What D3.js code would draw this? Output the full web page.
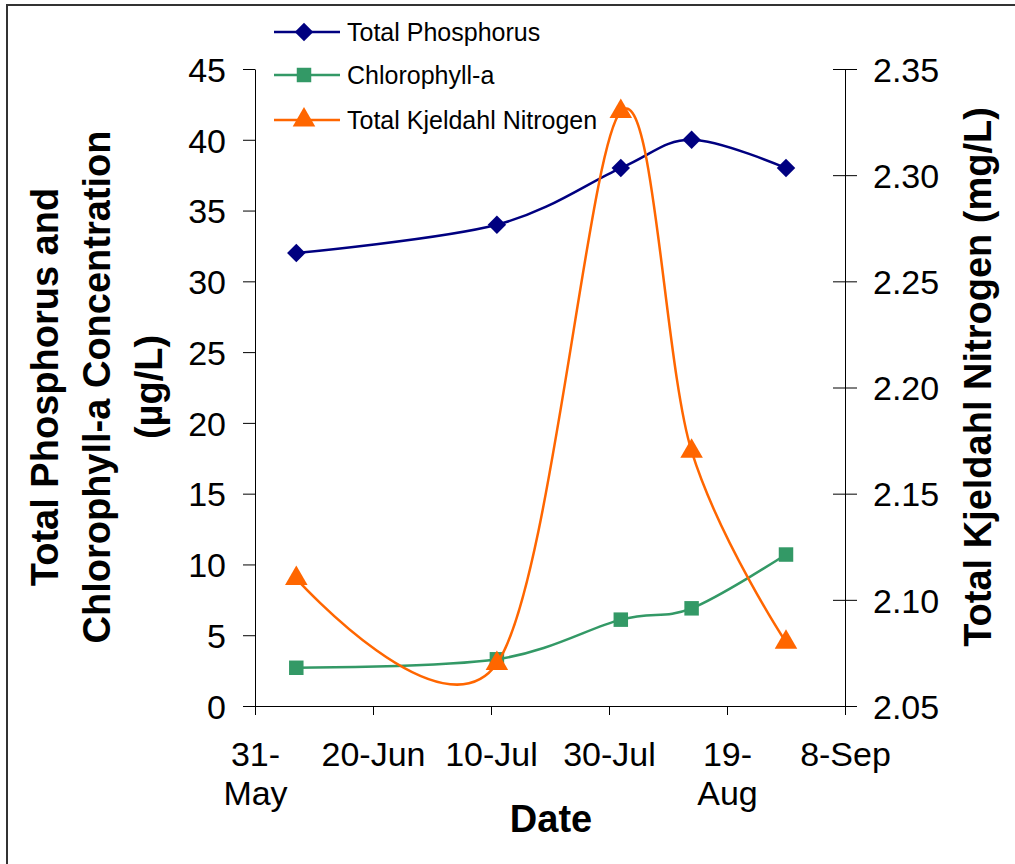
<!DOCTYPE html>
<html>
<head>
<meta charset="utf-8">
<script src="https://cdn.jsdelivr.net/npm/d3@7"></script>
<style>
  html, body { margin: 0; padding: 0; background: #fff; }
  svg { display: block; font-family: "Liberation Sans", Arial, sans-serif; }
</style>
</head>
<body>
<div id="chart"></div>
<script>
// data
const sampleDates = ['2003-06-07', '2003-07-11', '2003-08-01', '2003-08-13', '2003-08-29'];
const totalPhosphorus = [32, 34, 38, 40, 38];
const chlorophyllA = [2.7, 3.3, 6.1, 6.9, 10.7];
const totalKjeldahlN = [2.11, 2.07, 2.33, 2.17, 2.08];

const xTickDates = ['2003-05-31', '2003-06-20', '2003-07-10', '2003-07-30', '2003-08-19', '2003-09-08'];
const xTickLabels = [['31-', 'May'], ['20-Jun'], ['10-Jul'], ['30-Jul'], ['19-', 'Aug'], ['8-Sep']];
const leftTicks = [0, 5, 10, 15, 20, 25, 30, 35, 40, 45];
const rightTicks = [2.05, 2.10, 2.15, 2.20, 2.25, 2.30, 2.35];

const seriesNames = ['Total Phosphorus', 'Chlorophyll-a', 'Total Kjeldahl Nitrogen'];
const seriesColors = ['#000080', '#339966', '#FF6600'];

const width = 1015, height = 864;
const plot = {left: 255, right: 845, top: 69, bottom: 706};

const parse = d3.timeParse('%Y-%m-%d');

let svg = d3.select('#chart').append('svg')
            .attr('width', width)
            .attr('height', height);

// chart area border (only top and left visible)
svg.append('rect')
    .attr('x', 7).attr('y', 5)
    .attr('width', width + 20).attr('height', height + 20)
    .attr('fill', 'none')
    .attr('stroke', '#333')
    .attr('stroke-width', 2);

let xScale = d3.scaleTime()
              .domain([parse(xTickDates[0]), parse(xTickDates[xTickDates.length - 1])])
              .range([plot.left, plot.right]);

let yLeft = d3.scaleLinear()
              .domain([0, 45])
              .range([plot.bottom, plot.top]);

let yRight = d3.scaleLinear()
              .domain([2.05, 2.35])
              .range([plot.bottom, plot.top]);

// x axis
let xAxis = svg.append('g')
      .attr('transform', 'translate(0,' + plot.bottom + ')')
      .call(d3.axisBottom(xScale)
              .tickValues(xTickDates.map(parse))
              .tickSize(9)
              .tickSizeOuter(0)
              .tickFormat(''));

xAxis.selectAll('.tick text').remove();
xAxis.selectAll('.tick').each(function(d, i) {
  let t = d3.select(this).append('text')
            .attr('fill', '#000')
            .attr('text-anchor', 'middle')
            .style('font-size', '34px');
  xTickLabels[i].forEach((line, j) => {
    t.append('tspan').attr('x', 0).attr('y', 60 + j * 39).text(line);
  });
});

// left axis
let leftAxis = svg.append('g')
      .attr('transform', 'translate(' + plot.left + ',0)')
      .call(d3.axisLeft(yLeft)
              .tickValues(leftTicks)
              .tickSize(12)
              .tickSizeOuter(0)
              .tickPadding(17));
leftAxis.selectAll('text').style('font-size', '34px').attr('dy', '0.36em');

// right axis, ticks crossing the line
let rightAxis = svg.append('g')
      .attr('transform', 'translate(' + plot.right + ',0)')
      .call(d3.axisRight(yRight)
              .tickValues(rightTicks)
              .tickSize(12)
              .tickSizeOuter(0)
              .tickPadding(16)
              .tickFormat(d3.format('.2f')));
rightAxis.selectAll('line').attr('x1', -12);
rightAxis.selectAll('text').style('font-size', '34px').attr('dy', '0.36em');

svg.selectAll('.domain').attr('stroke', '#000');
svg.selectAll('.tick line').attr('stroke', '#000');

// axis titles
svg.append('text')
    .attr('x', 551).attr('y', 832)
    .attr('text-anchor', 'middle')
    .style('font-size', '38px').style('font-weight', 'bold')
    .text('Date');

let leftTitle = svg.append('text')
    .attr('transform', 'translate(58,387) rotate(-90)')
    .attr('text-anchor', 'middle')
    .style('font-size', '38px').style('font-weight', 'bold');
['Total Phosphorus and', 'Chlorophyll-a Concentration', '(µg/L)'].forEach((line, i) => {
  leftTitle.append('tspan').attr('x', 0).attr('y', i * 52).text(line);
});

svg.append('text')
    .attr('transform', 'translate(991,377) rotate(-90)')
    .attr('text-anchor', 'middle')
    .style('font-size', '38px').style('font-weight', 'bold')
    .text('Total Kjeldahl Nitrogen (mg/L)');

// series
let series = [
  {values: totalPhosphorus, y: yLeft, symbol: d3.symbolSquare, size: 170, rotate: 45},
  {values: chlorophyllA, y: yLeft, symbol: d3.symbolSquare, size: 210, rotate: 0},
  {values: totalKjeldahlN, y: yRight, symbol: d3.symbolTriangle, size: 220, rotate: 0}
];

series.forEach((s, i) => {
  let pts = s.values.map((v, j) => [xScale(parse(sampleDates[j])), s.y(v)]);

  svg.append('path')
      .attr('d', d3.line().curve(d3.curveCardinal.tension(0))(pts))
      .attr('fill', 'none')
      .attr('stroke', seriesColors[i])
      .attr('stroke-width', 2.5);

  svg.selectAll('.mark' + i)
      .data(pts)
    .enter().append('path')
      .attr('class', 'mark' + i)
      .attr('transform', (d) => 'translate(' + d[0] + ',' + d[1] + ') rotate(' + s.rotate + ')')
      .attr('d', d3.symbol().type(s.symbol).size(s.size))
      .attr('fill', seriesColors[i]);
});

// legend
let legendRows = [32, 75, 120];
series.forEach((s, i) => {
  let g = svg.append('g').attr('transform', 'translate(0,' + legendRows[i] + ')');
  g.append('line')
      .attr('x1', 274).attr('x2', 340)
      .attr('stroke', seriesColors[i])
      .attr('stroke-width', 2.5);
  g.append('path')
      .attr('transform', 'translate(304,0) rotate(' + s.rotate + ')')
      .attr('d', d3.symbol().type(s.symbol).size(s.size))
      .attr('fill', seriesColors[i]);
  g.append('text')
      .attr('x', 347).attr('dy', '0.35em')
      .style('font-size', '25px')
      .text(seriesNames[i]);
});
</script>
</body>
</html>
